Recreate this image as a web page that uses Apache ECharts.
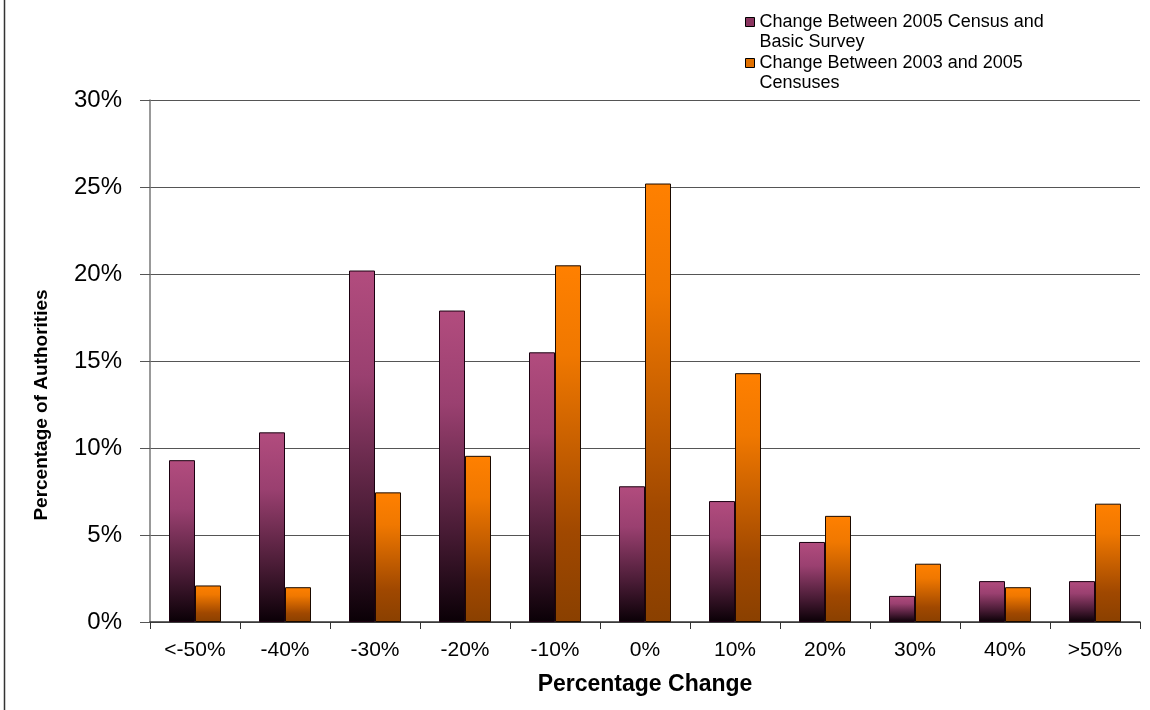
<!DOCTYPE html>
<html>
<head>
<meta charset="utf-8">
<script src="https://cdn.jsdelivr.net/npm/echarts@6/dist/echarts.min.js"></script>
<style>
  html, body { margin: 0; padding: 0; background: #fff; }
  #chart { width: 1150px; height: 710px; }
</style>
</head>
<body>
<div id="chart"></div>
<script>
const categorias = ["<-50%", "-40%", "-30%", "-20%", "-10%", "0%", "10%", "20%", "30%", "40%", ">50%"];
const censoPesquisa = [9.3, 10.9, 20.2, 17.9, 15.5, 7.8, 6.95, 4.6, 1.5, 2.35, 2.35];
const censos0305 = [2.1, 2.0, 7.45, 9.55, 20.5, 25.2, 14.3, 6.1, 3.35, 2.0, 6.8];
const nomeSerie1 = "Change Between 2005 Census and\nBasic Survey";
const nomeSerie2 = "Change Between 2003 and 2005\nCensuses";

const chart = echarts.init(document.getElementById("chart"));

// quadradinho da legenda alinhado com a primeira linha do texto
const iconeLegenda = "path://M0,0M0,5L9,5L9,14L0,14ZM0,40";

const gradRoxo = new echarts.graphic.LinearGradient(0, 0, 0, 1, [
  { offset: 0, color: "#b24c7e" },
  { offset: 0.3, color: "#9a4070" },
  { offset: 0.7, color: "#4a1c36" },
  { offset: 1, color: "#0a0006" },
]);
const gradLaranja = new echarts.graphic.LinearGradient(0, 0, 0, 1, [
  { offset: 0, color: "#ff8000" },
  { offset: 0.25, color: "#f07800" },
  { offset: 0.75, color: "#a04800" },
  { offset: 1, color: "#8a4000" },
]);

chart.setOption({
  animation: false,
  textStyle: { fontFamily: "Liberation Sans, Arial, sans-serif" },
  grid: { left: 150, right: 10, top: 100, bottom: 88 },
  legend: {
    left: 740,
    top: 7,
    orient: "vertical",
    itemWidth: 9,
    itemHeight: 40,
    itemGap: 0,
    icon: iconeLegenda,
    textStyle: { fontSize: 18, color: "#000", lineHeight: 20 },
    data: [
      { name: nomeSerie1, itemStyle: { color: "#8a3560", borderColor: "#000", borderWidth: 1 } },
      { name: nomeSerie2, itemStyle: { color: "#e07000", borderColor: "#000", borderWidth: 1 } },
    ],
  },
  graphic: [
    {
      type: "line",
      shape: { x1: 4.5, y1: 0, x2: 4.5, y2: 710 },
      style: { stroke: "#333", lineWidth: 1.5 },
    },
    {
      type: "text",
      x: 42,
      y: 405,
      rotation: Math.PI / 2,
      style: {
        text: "Percentage of Authorities",
        fontFamily: "Liberation Sans Narrow, Arial Narrow, Liberation Sans, sans-serif",
        fontWeight: "bold",
        fontSize: 19,
        fill: "#000",
        align: "center",
        verticalAlign: "middle",
      },
    },
  ],
  xAxis: {
    type: "category",
    data: categorias,
    name: "Percentage Change",
    nameLocation: "middle",
    nameGap: 51,
    nameTextStyle: { fontSize: 23, fontWeight: "bold", color: "#000" },
    axisLine: { lineStyle: { color: "#333", width: 1.5 } },
    axisTick: { show: true, length: 7, lineStyle: { color: "#333" } },
    axisLabel: { fontSize: 21, color: "#000", margin: 18 },
  },
  yAxis: {
    type: "value",
    min: 0,
    max: 30,
    interval: 5,
    axisLine: { show: true, lineStyle: { color: "#777", width: 1.5 } },
    axisTick: { show: true, length: 10, lineStyle: { color: "#555" } },
    axisLabel: { fontSize: 24, color: "#000", margin: 28, formatter: "{value}%" },
    splitLine: { lineStyle: { color: "#555", width: 1 } },
  },
  series: [
    {
      name: nomeSerie1,
      type: "bar",
      data: censoPesquisa,
      barWidth: 26,
      barGap: "0%",
      itemStyle: { color: gradRoxo, borderColor: "#1a0010", borderWidth: 1 },
    },
    {
      name: nomeSerie2,
      type: "bar",
      data: censos0305,
      barWidth: 26,
      itemStyle: { color: gradLaranja, borderColor: "#1a0a00", borderWidth: 1 },
    },
  ],
});
</script>
</body>
</html>
